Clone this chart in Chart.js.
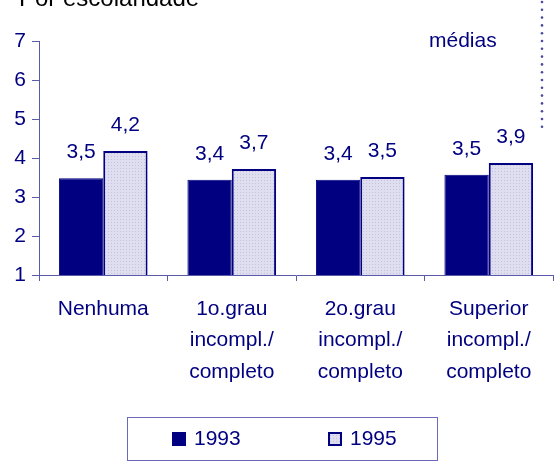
<!DOCTYPE html>
<html>
<head>
<meta charset="utf-8">
<script src="https://cdn.jsdelivr.net/npm/chart.js@4.4.1/dist/chart.umd.min.js"></script>
<style>
  html, body { margin: 0; padding: 0; background: #fff; }
  #wrap { width: 558px; height: 462px; position: relative; }
</style>
</head>
<body>
<div id="wrap"><canvas id="escolaridade"></canvas></div>
<script>
// categorias (eixo x), uma linha por item
var categorias = [
  ["Nenhuma"],
  ["1o.grau", "incompl./", "completo"],
  ["2o.grau", "incompl./", "completo"],
  ["Superior", "incompl./", "completo"]
];
var series = ["1993", "1995"];
// alturas das barras
var valores1993 = [3.48, 3.44, 3.44, 3.57];
var valores1995 = [4.18, 3.72, 3.51, 3.87];
// rotulos impressos sobre as barras
var rotulos1993 = ["3,5", "3,4", "3,4", "3,5"];
var rotulos1995 = ["4,2", "3,7", "3,5", "3,9"];
var ticksY = [1, 2, 3, 4, 5, 6, 7];

var navy = '#000080';
var fonte = "'Liberation Sans', Arial, sans-serif";

// pontilhado claro da serie 1995
var pc = document.createElement('canvas');
pc.width = 3; pc.height = 3;
var pctx = pc.getContext('2d');
pctx.fillStyle = '#dedef0';
pctx.fillRect(0, 0, 3, 3);
pctx.fillStyle = '#c2c2dc';
pctx.fillRect(0, 0, 1, 1);
var ctx = document.getElementById("escolaridade").getContext("2d");
var pontilhado = ctx.createPattern(pc, 'repeat');

var barChartData = {
  labels: categorias,
  datasets: [
    {
      label: series[0],
      backgroundColor: navy,
      borderColor: navy,
      borderWidth: 1,
      borderSkipped: false,
      categoryPercentage: 0.69,
      barPercentage: 1,
      data: valores1993,
      rotulos: rotulos1993
    },
    {
      label: series[1],
      backgroundColor: pontilhado,
      borderColor: navy,
      borderWidth: 2,
      borderSkipped: false,
      categoryPercentage: 0.69,
      barPercentage: 1,
      data: valores1995,
      rotulos: rotulos1995
    }
  ]
};

// rotulos de valor, titulo, "médias", linha pontilhada e legenda
var extras = {
  id: 'extras',
  afterDatasetsDraw: function(chart) {
    var c = chart.ctx;
    c.save();
    c.fillStyle = navy;
    c.font = '21px ' + fonte;
    c.textAlign = 'center';
    c.textBaseline = 'middle';
    chart.data.datasets.forEach(function(ds, i) {
      chart.getDatasetMeta(i).data.forEach(function(bar, j) {
        c.fillText(ds.rotulos[j], bar.x, bar.y - 26);
      });
    });

    // titulo cortado no topo
    c.textAlign = 'left';
    c.textBaseline = 'alphabetic';
    c.font = '24px ' + fonte;
    c.fillStyle = '#000';
    c.fillText('Por escolaridade', 19, 6);

    c.fillStyle = navy;
    c.font = '21px ' + fonte;
    c.fillText('médias', 429, 47);

    // linha pontilhada a direita
    c.fillStyle = '#4a4aa0';
    for (var y = 2; y <= 128; y += 7.8) {
      c.beginPath();
      c.arc(542, y, 1.3, 0, Math.PI * 2);
      c.fill();
    }

    // legenda
    c.strokeStyle = '#6a6ab8';
    c.lineWidth = 1;
    c.strokeRect(127.5, 417.5, 310, 43);
    c.fillStyle = navy;
    c.fillRect(172, 432, 14, 14);
    c.fillStyle = pontilhado;
    c.fillRect(329, 433, 12, 12);
    c.strokeStyle = navy;
    c.lineWidth = 2;
    c.strokeRect(329, 433, 12, 12);
    c.fillStyle = navy;
    c.font = '21px ' + fonte;
    c.textBaseline = 'middle';
    c.fillText(series[0], 194, 439);
    c.fillText(series[1], 350, 439);
    c.restore();
  }
};

var chartOptions = {
  responsive: true,
  maintainAspectRatio: false,
  animation: false,
  layout: { padding: { top: 41, right: 5, left: 0, bottom: 0 } },
  plugins: {
    legend: { display: false },
    tooltip: { enabled: false }
  },
  scales: {
    x: {
      offset: true,
      border: { color: '#5a5aa8', width: 1 },
      grid: { drawOnChartArea: false, drawTicks: true, tickLength: 6, color: '#5a5aa8', offset: true },
      ticks: {
        color: navy,
        font: { family: fonte, size: 21, lineHeight: 1.5 },
        padding: 12,
        maxRotation: 0,
        autoSkip: false
      },
      afterFit: function(scale) { scale.height = 462 - 275; }
    },
    y: {
      min: 1,
      max: 7,
      border: { color: '#5a5aa8', width: 1 },
      grid: { drawOnChartArea: false, drawTicks: true, tickLength: 7, color: '#5a5aa8' },
      afterBuildTicks: function(scale) {
        scale.ticks = ticksY.map(function(v) { return { value: v }; });
      },
      ticks: {
        color: navy,
        font: { family: fonte, size: 21 },
        padding: 6
      },
      afterFit: function(scale) { scale.width = 39; }
    }
  }
};

var myBar = new Chart(ctx, {
  type: "bar",
  data: barChartData,
  options: chartOptions,
  plugins: [extras]
});
</script>
</body>
</html>
